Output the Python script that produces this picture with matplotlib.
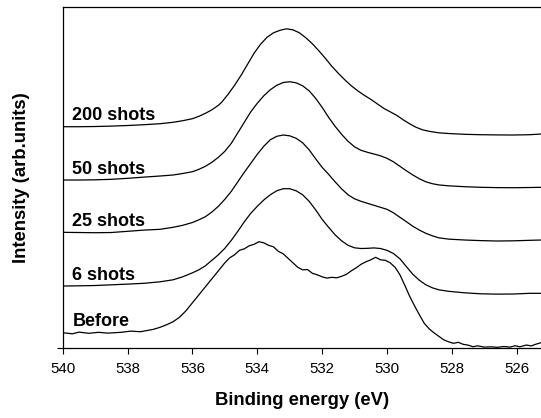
import matplotlib
matplotlib.use("Agg")
import matplotlib.pyplot as plt

plt.rcParams["font.family"] = ["Liberation Sans", "DejaVu Sans"]

# O 1s spectra, intensity in arb. units (already stacked)
be_200 = [540.0, 539.5, 539.0, 538.5, 538.0, 537.5, 537.0, 536.6, 536.3, 536.0,
          535.8, 535.6, 535.4, 535.2, 535.1, 534.9, 534.7, 534.5, 534.3, 534.1,
          533.9, 533.7, 533.5, 533.3, 533.1, 532.9, 532.7, 532.5, 532.3, 532.1,
          531.9, 531.7, 531.5, 531.3, 531.1, 530.9, 530.7, 530.5, 530.3, 530.1,
          529.9, 529.7, 529.5, 529.3, 529.1, 528.9, 528.7, 528.4, 528.1, 527.6,
          527.1, 526.6, 526.1, 525.6, 525.25]
int_200 = [221.6, 221.6, 221.8, 222.2, 222.8, 223.6, 224.6, 226, 227.6, 229.6,
           232, 235, 238.5, 243, 246, 254, 263, 273, 284, 295,
           304, 311, 315.5, 318, 319.5, 318.5, 315.5, 310.5, 304.5, 297.5,
           290, 282, 275, 268.5, 262.5, 257.5, 253, 249, 244.5, 240,
           236.5, 233, 228.5, 224.5, 221, 218.5, 217, 215.5, 214.8, 214,
           213.6, 213.4, 213.3, 213.6, 214.3]

be_50 = [540.0, 539.5, 539.0, 538.5, 538.0, 537.5, 537.0, 536.6, 536.3, 536.0,
         535.8, 535.6, 535.4, 535.2, 535.0, 534.8, 534.6, 534.4, 534.2, 534.0,
         533.8, 533.6, 533.4, 533.2, 533.0, 532.8, 532.6, 532.4, 532.2, 532.0,
         531.8, 531.6, 531.4, 531.2, 531.0, 530.8, 530.6, 530.4, 530.2, 530.0,
         529.8, 529.6, 529.4, 529.2, 529.0, 528.8, 528.6, 528.4, 528.1, 527.6,
         527.1, 526.6, 526.1, 525.6, 525.25]
int_50 = [168.3, 168.3, 168.5, 169, 170, 171.2, 172.3, 173.3, 174.8, 176.6,
          179, 182, 186, 191, 197, 205, 215.5, 226, 236.5, 245,
          252.5, 258.5, 263, 265.8, 266.6, 265.5, 262.5, 257.5, 250, 241,
          231, 222, 214, 207, 201.5, 198, 196, 194.3, 192.5, 190,
          186.5, 182, 177.5, 173.3, 169.5, 166.5, 164.6, 163.4, 162.5, 161.6,
          161, 160.7, 160.6, 160.8, 161]

be_25 = [540.0, 539.5, 539.0, 538.5, 538.0, 537.5, 537.0, 536.6, 536.3, 536.0,
         535.8, 535.6, 535.4, 535.2, 535.0, 534.8, 534.6, 534.4, 534.2, 534.0,
         533.8, 533.6, 533.4, 533.2, 533.0, 532.8, 532.6, 532.4, 532.2, 532.0,
         531.8, 531.6, 531.4, 531.2, 531.0, 530.8, 530.6, 530.4, 530.2, 530.0,
         529.8, 529.6, 529.4, 529.2, 529.0, 528.8, 528.6, 528.4, 528.1, 527.6,
         527.1, 526.6, 526.1, 525.6, 525.25]
int_25 = [116, 115.8, 115.6, 115.8, 117, 118.2, 119, 121, 123, 125.8,
          128.5, 131.6, 136.3, 142, 149, 157, 166.5, 176, 185, 194,
          202, 208.5, 212, 213.3, 212.5, 210, 205.5, 198.5, 189.5, 181,
          174, 166.5, 159.5, 153.5, 149.5, 147, 145, 143, 141, 139,
          135.5, 131, 126.6, 122, 118.2, 115, 112.5, 110.5, 109.2, 108.3,
          107.7, 107.3, 107.5, 108, 108.3]

be_6 = [540.0, 539.5, 539.0, 538.5, 538.0, 537.5, 537.0, 536.6, 536.3, 536.0,
        535.8, 535.6, 535.4, 535.2, 535.0, 534.8, 534.6, 534.4, 534.2, 534.0,
        533.8, 533.6, 533.4, 533.2, 533.0, 532.8, 532.6, 532.4, 532.2, 532.0,
        531.8, 531.6, 531.4, 531.2, 531.0, 530.8, 530.6, 530.4, 530.2, 530.0,
        529.8, 529.6, 529.4, 529.2, 529.0, 528.8, 528.6, 528.4, 528.1, 527.6,
        527.1, 526.6, 526.1, 525.6, 525.25]
int_6 = [62.3, 62.5, 62.8, 63.5, 64.2, 65, 66.5, 68.5, 71.5, 75.5,
         78.5, 82.5, 88, 93.5, 100, 108, 117, 126.5, 135, 142,
         148.3, 153.5, 157.5, 159.6, 159.6, 157.5, 153.5, 147, 138.5, 129,
         121, 113.5, 107.5, 103, 100.5, 99.8, 100, 100.4, 99.8, 98,
         94.8, 89.5, 81.6, 74, 68, 63.5, 60.5, 58.5, 57, 55.5,
         54.5, 54.2, 54.3, 55, 55]

be_before = [540.0, 539.7, 539.5, 539.2, 538.9, 538.6, 538.2, 537.9, 537.6, 537.4,
             537.2, 537.0, 536.8, 536.6, 536.4, 536.2, 536.0, 535.8, 535.6, 535.4,
             535.2, 535.0, 534.85, 534.7, 534.55, 534.4, 534.25, 534.1, 533.95, 533.8,
             533.65, 533.5, 533.35, 533.2, 533.05, 532.9, 532.75, 532.6, 532.45, 532.3,
             532.15, 532.0, 531.85, 531.7, 531.55, 531.4, 531.25, 531.1, 530.95, 530.8,
             530.65, 530.5, 530.35, 530.2, 530.05, 529.9, 529.75, 529.6, 529.45, 529.3,
             529.15, 529.0, 528.85, 528.7, 528.55, 528.4, 528.25, 528.1, 527.95, 527.8,
             527.65, 527.5, 527.35, 527.2, 527.0, 526.8, 526.6, 526.4, 526.2, 526.05,
             525.9, 525.7, 525.55, 525.4, 525.25]
int_before = [15.6, 14.5, 16.2, 15, 16, 15.2, 16, 17.2, 16.6, 17.8,
              19, 21, 23.5, 26.5, 31, 37.5, 45.5, 53.5, 61.5, 69.5,
              77.5, 85.5, 90.5, 93.5, 98, 99.5, 102.5, 104, 106.6, 105.5,
              103, 101.5, 97, 94.5, 90, 85.5, 81, 78.5, 78.8, 75,
              73.5, 71.5, 70.2, 71, 70.5, 72, 74, 77.5, 80.5, 84,
              86.5, 88.5, 91, 88.5, 88, 85.5, 81, 73.5, 63, 52,
              42.5, 33.5, 25, 19.5, 15.5, 12, 8.5, 6.5, 5, 6,
              4, 3.2, 1.6, 2.5, 1.2, 1.5, 1, 1.8, 1.2, 2.6,
              1.5, 3.3, 2.4, 4.2, 5.6]

labels = ["200 shots", "50 shots", "25 shots", "6 shots", "Before"]
series = [(be_200, int_200), (be_50, int_50), (be_25, int_25),
          (be_6, int_6), (be_before, int_before)]

fig = plt.figure(figsize=(5.41, 4.18), dpi=100)
ax = fig.add_axes([0.1159, 0.1667, 0.8841, 0.8158])

for name, (x, y) in zip(labels, series):
    ax.plot(x, y, color="black", lw=0.9)
    # label sits just above the left end of each curve
    ax.text(539.7, y[0] + 6.5, name, fontsize=13, fontweight="bold", va="baseline")

ax.set_xlim(540, 525.25)
ax.set_ylim(0, 341)
ax.set_xticks([540, 538, 536, 534, 532, 530, 528, 526])
ax.set_yticks([0])
ax.set_yticklabels([])
ax.tick_params(direction="out", length=4.5, width=0.8, labelsize=10.8, pad=5)
ax.spines["right"].set_visible(False)
for s in ["left", "bottom", "top"]:
    ax.spines[s].set_linewidth(0.9)

ax.set_xlabel("Binding energy (eV)", fontsize=13.3, fontweight="bold", labelpad=12)
ax.set_ylabel("Intensity (arb.units)", fontsize=13.3, fontweight="bold", labelpad=14)

fig.savefig("out.png", dpi=100)
